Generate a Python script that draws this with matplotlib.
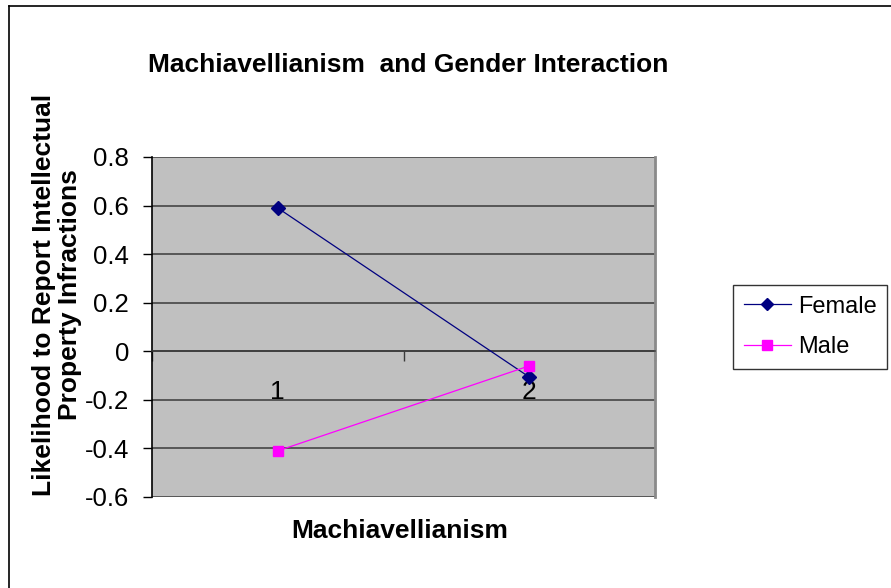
import matplotlib.pyplot as plt
from matplotlib.lines import Line2D

plt.rcParams['font.family'] = ['Liberation Sans', 'DejaVu Sans']

categories = [1, 2]
cat_labels = ['1', '2']
female = [0.59, -0.106]
male = [-0.41, -0.06]
yticks = [-0.6, -0.4, -0.2, 0, 0.2, 0.4, 0.6, 0.8]

fig = plt.figure(figsize=(8.91, 5.88), dpi=100)
ax = fig.add_axes([152/891, 1-497/588, 503/891, 340/588])
ax.set_facecolor('#C0C0C0')

# gridlines
for y in yticks:
    ax.axhline(y, color='#3a3a3a', lw=1.1, zorder=1)

ax.plot(categories, female, color='#000080', lw=0.9, marker='D', ms=7.5, zorder=3, label='Female')
ax.plot(categories, male, color='#FF00FF', lw=0.9, marker='s', ms=7.5, zorder=3, label='Male')

ax.set_xlim(0.5, 2.5)
ax.set_ylim(-0.6, 0.8)
ax.set_yticks(yticks)
ax.set_yticklabels(['-0.6', '-0.4', '-0.2', '0', '0.2', '0.4', '0.6', '0.8'], fontsize=18.5)
ax.tick_params(axis='y', direction='out', length=6.5, width=1, pad=10)

# x axis crosses at 0
ax.spines['bottom'].set_position(('data', 0))
ax.spines['bottom'].set_color('#3a3a3a')
ax.spines['bottom'].set_linewidth(1.1)
ax.spines['top'].set_visible(False)
ax.spines['right'].set_color('#8a8a8a')
ax.spines['right'].set_linewidth(2)
ax.spines['left'].set_linewidth(1.2)
ax.set_xticks([0.5, 1.5, 2.5])
ax.set_xticklabels([])
ax.tick_params(axis='x', which='major', direction='out', length=7, width=1, color='#3a3a3a')
ax.set_xticks(categories, minor=True)
ax.set_xticklabels(cat_labels, minor=True, fontsize=19)
ax.tick_params(axis='x', which='minor', length=0, pad=21)

fig.text(408/891, 1-65/588, 'Machiavellianism  and Gender Interaction', ha='center', va='center',
         fontsize=19, fontweight='bold')
fig.text(400/891, 1-531/588, 'Machiavellianism', ha='center', va='center', fontsize=19, fontweight='bold')
fig.text(57/891, 1-295/588, 'Likelihood to Report Intellectual\nProperty Infractions', ha='center', va='center',
         rotation=90, fontsize=19, fontweight='bold', linespacing=1.15)

handles = [Line2D([], [], color='#000080', lw=0.9, marker='D', ms=6.5),
           Line2D([], [], color='#FF00FF', lw=0.9, marker='s', ms=6.5)]
leg = fig.legend(handles, ['Female', 'Male'], loc='upper left', bbox_to_anchor=(733/891, 1-285/588),
                 fontsize=17, frameon=True, fancybox=False, handlelength=2.0, handletextpad=0.3,
                 labelspacing=0.78, borderpad=0.45, borderaxespad=0)
leg.get_frame().set_edgecolor('black')
leg.get_frame().set_linewidth(1)

# chart border
fig.add_artist(Line2D([9/891, 9/891], [0, 1-6/588], color='black', lw=1.2, transform=fig.transFigure))
fig.add_artist(Line2D([9/891, 1], [1-6/588, 1-6/588], color='black', lw=1.2, transform=fig.transFigure))

fig.savefig('out.png', dpi=100)
